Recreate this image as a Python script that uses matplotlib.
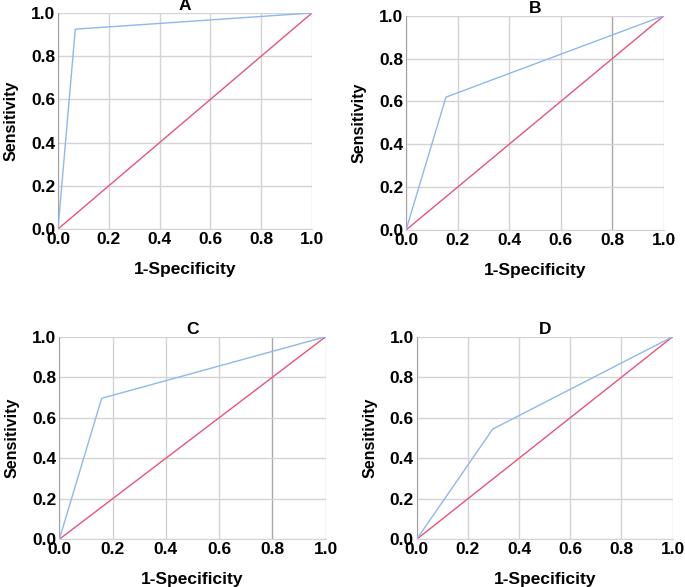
import matplotlib
matplotlib.use("Agg")
import matplotlib.pyplot as plt

plt.rcParams['font.family'] = ['Liberation Sans', 'DejaVu Sans']

panels = ["A", "B", "C", "D"]
roc_x = {
    "A": [0.0, 0.068, 1.0],
    "B": [0.0, 0.155, 1.0],
    "C": [0.0, 0.159, 1.0],
    "D": [0.0, 0.297, 1.0],
}
roc_y = {
    "A": [0.0, 0.925, 1.0],
    "B": [0.0, 0.62, 1.0],
    "C": [0.0, 0.696, 1.0],
    "D": [0.0, 0.544, 1.0],
}
ref_line = [0.0, 1.0]
ticks = [0.0, 0.2, 0.4, 0.6, 0.8, 1.0]
tick_labels = ["0.0", "0.2", "0.4", "0.6", "0.8", "1.0"]

rects = {
    "A": [0.0847, 0.6099, 0.4555 - 0.0847, 0.9779 - 0.6099],
    "B": [0.5927, 0.6082, 0.9693 - 0.5927, 0.9733 - 0.6082],
    "C": [0.0866, 0.0813, 0.4755 - 0.0866, 0.4264 - 0.0813],
    "D": [0.6083, 0.0813, 0.9820 - 0.6083, 0.4264 - 0.0813],
}
dark_grid = {"A": [], "B": [4], "C": [4], "D": []}

fig = plt.figure(figsize=(6.85, 5.87), dpi=100)
for p in panels:
    ax = fig.add_axes(rects[p])
    ax.set_xlim(0, 1)
    ax.set_ylim(0, 1)
    ax.grid(True, color="#d4d4d4", linewidth=1.0)
    ax.set_axisbelow(True)
    ax.plot(ref_line, ref_line, color="#e8547a", linewidth=1.0, zorder=3)
    ax.plot(roc_x[p], roc_y[p], color="#8fb8ee", linewidth=1.0, zorder=4)
    ax.set_xticks(ticks)
    ax.set_yticks(ticks)
    ax.set_xticklabels(tick_labels, fontsize=12.5, fontweight="bold")
    ax.set_yticklabels(tick_labels, fontsize=12.5, fontweight="bold")
    ax.tick_params(length=0, pad=2)
    for i in dark_grid[p]:
        ax.get_xgridlines()[i].set_color("#a8a8a8")
    for s in ["top", "right"]:
        ax.spines[s].set_visible(False)
    ax.spines["left"].set_color("#a0a0a0")
    ax.spines["bottom"].set_color("#d4d4d4")
    ax.set_xlabel("1-Specificity", fontsize=12.5, fontweight="bold", labelpad=11)
    ax.set_ylabel("Sensitivity", fontsize=11.5, fontweight="bold", labelpad=9)
    ax.set_title(p, fontsize=12.5, fontweight="bold", pad=1)

fig.savefig("out.png", dpi=100)
